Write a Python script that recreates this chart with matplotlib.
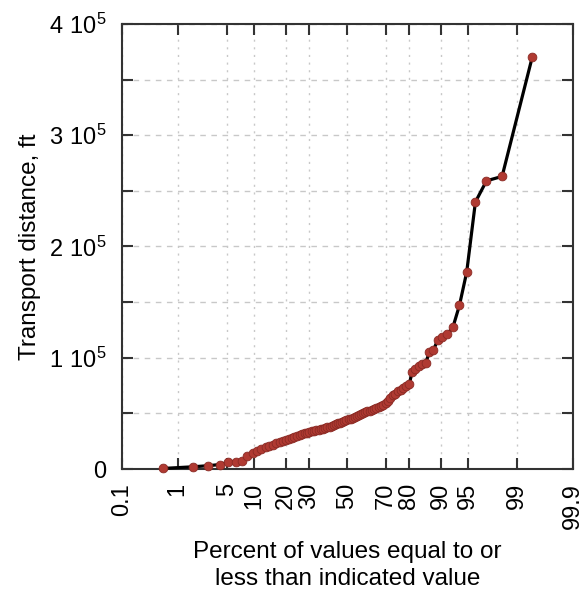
import numpy as np
import matplotlib
matplotlib.use('Agg')
from matplotlib import pyplot as plt
from statistics import NormalDist

plt.rcParams['font.family'] = ['Liberation Sans', 'DejaVu Sans']
plt.rcParams['mathtext.fontset'] = 'custom'
plt.rcParams['mathtext.rm'] = 'Liberation Sans'

# Transport distances (ft), sorted
distance = [500, 2000, 3000, 4000, 6000, 6500, 6800, 11500, 14000, 16000,
            18000, 19500, 20800, 22000, 23200, 24500, 25300, 26000, 27000, 28000,
            29000, 29800, 30600, 31300, 32000, 32700, 33300, 33800, 34300, 34800,
            35300, 35800, 36300, 36900, 37400, 38000, 38800, 39600, 40300, 41000,
            41500, 42200, 43000, 43900, 44600, 45200, 46000, 46800, 47700, 48500,
            49300, 50000, 51000, 51800, 52500, 53300, 54000, 54800, 55500, 56200,
            57500, 59000, 61000, 63500, 66500, 67500, 70000, 71000, 72500, 74500,
            76000, 87500, 90000, 92600, 94000, 95300, 105000, 107000, 116000, 119000,
            121000, 128000, 147000, 177000, 240000, 259000, 263000, 370000]
n = len(distance)
# Hazen plotting positions, percent
percent = [(i + 0.5) / n * 100 for i in range(n)]

prob_ticks = [0.1, 1, 5, 10, 20, 30, 50, 70, 80, 90, 95, 99, 99.9]
prob_labels = ['0.1', '1', '5', '10', '20', '30', '50', '70', '80', '90', '95', '99', '99.9']
y_ticks = [0, 50000, 100000, 150000, 200000, 250000, 300000, 350000, 400000]
y_labels = ['0', '', r'$\mathregular{1\ 10^{5}}$', '', r'$\mathregular{2\ 10^{5}}$', '',
            r'$\mathregular{3\ 10^{5}}$', '', r'$\mathregular{4\ 10^{5}}$']

nd = NormalDist()
_ppf = np.vectorize(lambda p: nd.inv_cdf(min(max(p / 100.0, 1e-9), 1 - 1e-9)), otypes=[float])
_cdf = np.vectorize(lambda z: nd.cdf(z) * 100.0, otypes=[float])

fig = plt.figure(figsize=(5.87, 5.99), dpi=100)
ax = fig.add_axes([0.2078, 0.217, 0.7683, 0.743])
ax.set_xscale('function', functions=(_ppf, _cdf))

ax.plot(percent, distance, color='black', linewidth=2.3, zorder=3,
        marker='o', markersize=6.3, markerfacecolor='#b03a32',
        markeredgecolor='#8a2a24', markeredgewidth=0.6, clip_on=False)

ax.set_xlim(0.1, 99.9)
ax.set_ylim(0, 400000)
ax.set_xticks(prob_ticks)
ax.set_xticklabels(prob_labels, rotation=90, fontsize=17)
ax.minorticks_off()
ax.set_yticks(y_ticks)
ax.set_yticklabels(y_labels, fontsize=17)

ax.tick_params(direction='in', length=8, width=1.5, color='#333333',
               top=True, right=True)
ax.tick_params(axis='x', pad=10)
ax.tick_params(axis='y', pad=11)
for s in ax.spines.values():
    s.set_linewidth(1.5)
    s.set_color('#333333')

ax.grid(axis='x', color='#c8c8c8', linestyle=(0, (1.5, 4)), linewidth=1.0)
ax.grid(axis='y', color='#c8c8c8', linestyle=(0, (4, 4)), linewidth=1.0)
ax.set_axisbelow(True)

ax.set_ylabel('Transport distance, ft', fontsize=17.5, labelpad=6)
ax.set_xlabel('Percent of values equal to or\nless than indicated value',
              fontsize=17.5, labelpad=9, linespacing=1.3)

plt.savefig('out.png', dpi=100)
